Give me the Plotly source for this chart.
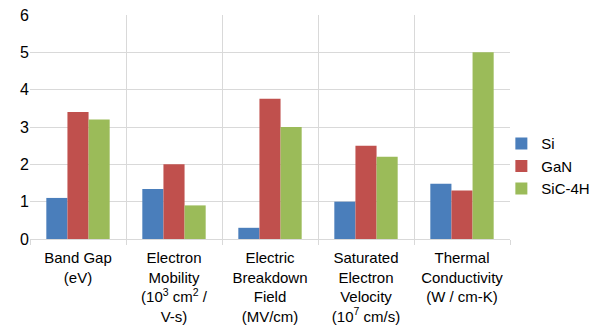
import plotly.graph_objects as go

categories = [
    "Band Gap<br>(eV)",
    "Electron<br>Mobility<br>(10<sup>3</sup> cm<sup>2</sup> /<br>V-s)",
    "Electric<br>Breakdown<br>Field<br>(MV/cm)",
    "Saturated<br>Electron<br>Velocity<br>(10<sup>7</sup> cm/s)",
    "Thermal<br>Conductivity<br>(W / cm-K)",
]
si = [1.1, 1.34, 0.3, 1.0, 1.48]
gan = [3.4, 2.0, 3.76, 2.5, 1.3]
sic = [3.2, 0.9, 3.0, 2.2, 5.0]

series = [("Si", si, "#4A7EBB"), ("GaN", gan, "#C0504D"), ("SiC-4H", sic, "#9BBB59")]

fig = go.Figure()
for name, vals, col in series:
    fig.add_trace(go.Bar(x=categories, y=vals, name=name, marker_color=col,
                         marker_line_width=0))

font = dict(family="Liberation Sans, Arial, sans-serif", size=15, color="#000000")
fig.update_layout(
    width=600, height=332,
    margin=dict(l=30, r=90, t=15, b=93, autoexpand=False),
    paper_bgcolor="white", plot_bgcolor="white",
    font=font,
    barmode="group", bargap=0.34, bargroupgap=0,
    showlegend=True,
    legend=dict(x=0.982, y=0.325, xanchor="left", yanchor="middle",
                font=font, itemwidth=30, tracegroupgap=0,
                bgcolor="rgba(0,0,0,0)"),
    xaxis=dict(tickson="boundaries", showgrid=True, gridcolor="#D9D9D9",
               showline=True, linecolor="#D9D9D9", ticks="outside",
               ticklen=5, tickcolor="#D9D9D9", tickangle=0, automargin=False,
               ticklabelstandoff=5),
    yaxis=dict(range=[0, 6], dtick=1, showgrid=True, gridcolor="#D9D9D9",
               gridwidth=1, zeroline=False, showline=False, ticks="",
               automargin=False, tickfont=dict(size=16)),
)
fig.write_html("out.html")
